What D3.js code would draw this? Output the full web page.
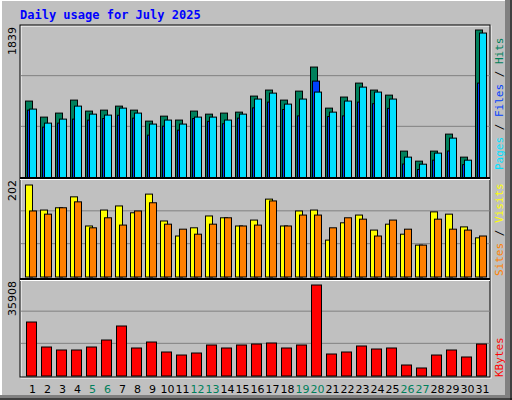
<html>
<script src="https://d3js.org/d3.v7.min.js"></script>
<style>body{margin:0;background:#c0c0c0;} text{font-family:"DejaVu Sans";}</style>
<body>
<svg id="chart" width=512 height=400></svg>
<script>
// daily values
var days = d3.range(1, 32);
var weekend = [5, 6, 12, 13, 19, 20, 26, 27];
var hits = [953,753,803,965,828,840,890,840,703,765,716,828,790,803,815,1015,1090,965,1077,1377,865,1003,1177,1090,1027,329,204,329,541,254,1839];
var files = [840,628,678,728,715,735,776,740,528,640,590,735,700,670,740,868,940,848,768,1202,760,768,940,920,862,168,100,216,330,160,1177];
var pages = [853,678,728,890,790,778,865,803,666,716,666,753,753,716,790,978,1052,915,978,1065,815,953,1127,1065,978,254,166,304,491,216,1801];
var visits = [202,147,152,176,112,147,156,141,182,123,90,108,134,130,112,125,171,112,145,147,81,119,136,103,116,94,70,143,138,110,86];
var sites = [145,138,152,165,108,130,114,145,163,116,105,94,116,130,112,114,167,112,136,136,108,130,127,90,125,105,70,127,105,103,90];
var kbytes = [21300,11440,10260,10260,11440,14200,19730,11050,13410,9470,8280,9070,12230,11050,12230,12620,13020,11050,12230,35908,8680,9470,11840,10650,11050,4340,3160,8280,10260,7500,12620];

var svg = d3.select("#chart");
// bevelled background
svg.append("rect").attr("width", 512).attr("height", 400).attr("fill", "#c0c0c0");
svg.append("path").attr("d", "M505,0V395H0V400H512V0Z").attr("fill", "#808080");
svg.append("path").attr("d", "M0,0H505M1,0V395").attr("stroke", "#fff").attr("stroke-width", 2);
svg.append("path").attr("d", "M0,399H512M511,0V400").attr("stroke", "#000");

svg.append("text").attr("x", 20).attr("y", 19)
    .style("font-family", "DejaVu Sans Mono").style("font-size", "12px").style("font-weight", "bold")
    .attr("fill", "#0000ff").text("Daily usage for July 2025");

var left = 20, right = 490;
var x = d3.scaleBand().domain(days).range([23, 488]);

var panels = [
    {top: 25, bottom: 177, max: 1839, y: d3.scaleLinear([0, 1839], [177, 29.5])},
    {top: 178, bottom: 276.5, max: 202, y: d3.scaleLinear([0, 202], [276.5, 184.5])},
    {top: 279, bottom: 375.5, max: 35908, y: d3.scaleLinear([0, 35908], [375.5, 284.5])}
];

// frame
svg.append("rect").attr("x", left + 1).attr("y", 26).attr("width", right - left).attr("height", 352)
    .attr("fill", "none").attr("stroke", "#fff");
svg.append("rect").attr("x", left).attr("y", 25).attr("width", right - left).attr("height", 352)
    .attr("fill", "none").attr("stroke", "#000");

panels.forEach(function(p, i) {
    var h = p.bottom - p.top;
    [1, 2].forEach(function(k) {
        svg.append("line").attr("x1", left + 1).attr("x2", right)
            .attr("y1", p.bottom - h * k / 3).attr("y2", p.bottom - h * k / 3)
            .attr("stroke", "#808080");
    });
    if (i > 0) {
        svg.append("line").attr("x1", left).attr("x2", right).attr("y1", p.top).attr("y2", p.top)
            .attr("stroke", "#000").attr("stroke-width", 2);
        svg.append("line").attr("x1", left).attr("x2", right).attr("y1", p.top + 1.5).attr("y2", p.top + 1.5)
            .attr("stroke", "#fff");
    }
    svg.append("text").attr("transform", "translate(16," + (p.top + 2) + ") rotate(-90)")
        .attr("text-anchor", "end").style("font-size", "11px").attr("fill", "#000").text(p.max);
});

function bars(data, yScale, off, w, color) {
    svg.append("g").selectAll("rect").data(data).enter().append("rect")
        .attr("x", function(d, i) { return x(days[i]) + off + 0.5; })
        .attr("y", function(d) { return yScale(d) + 0.5; })
        .attr("width", w)
        .attr("height", function(d) { return yScale(0) - yScale(d); })
        .attr("fill", color).attr("stroke", "#000");
}

bars(hits, panels[0].y, 2, 7, "#00805c");
bars(files, panels[0].y, 4, 7, "#0040ff");
bars(pages, panels[0].y, 6, 7, "#00e0ff");
bars(visits, panels[1].y, 2, 7, "#ffff00");
bars(sites, panels[1].y, 6, 7, "#ff8000");
bars(kbytes, panels[2].y, 3, 10, "#ff0000");

// day labels
svg.append("g").selectAll("text").data(days).enter().append("text")
    .attr("x", function(d) { return x(d) + x.bandwidth() / 2 + 2; })
    .attr("y", 393).attr("text-anchor", "middle").style("font-size", "11px")
    .attr("fill", function(d) { return weekend.indexOf(d) >= 0 ? "#00805c" : "#000"; })
    .text(function(d) { return d; });

// right-side legends
function legend(yBottom, parts) {
    var t = svg.append("text").attr("transform", "translate(503," + yBottom + ") rotate(-90)")
        .style("font-family", "DejaVu Sans Mono").style("font-size", "11px");
    parts.forEach(function(p) { t.append("tspan").attr("fill", p[1]).text(p[0]); });
}
legend(170, [["Pages", "#00e0ff"], [" / ", "#000"], ["Files", "#0040ff"], [" / ", "#000"], ["Hits", "#00805c"]]);
legend(276, [["Sites", "#ff8000"], [" / ", "#000"], ["Visits", "#ffff00"]]);
legend(377, [["KBytes", "#ff0000"]]);
</script>
</body>
</html>
